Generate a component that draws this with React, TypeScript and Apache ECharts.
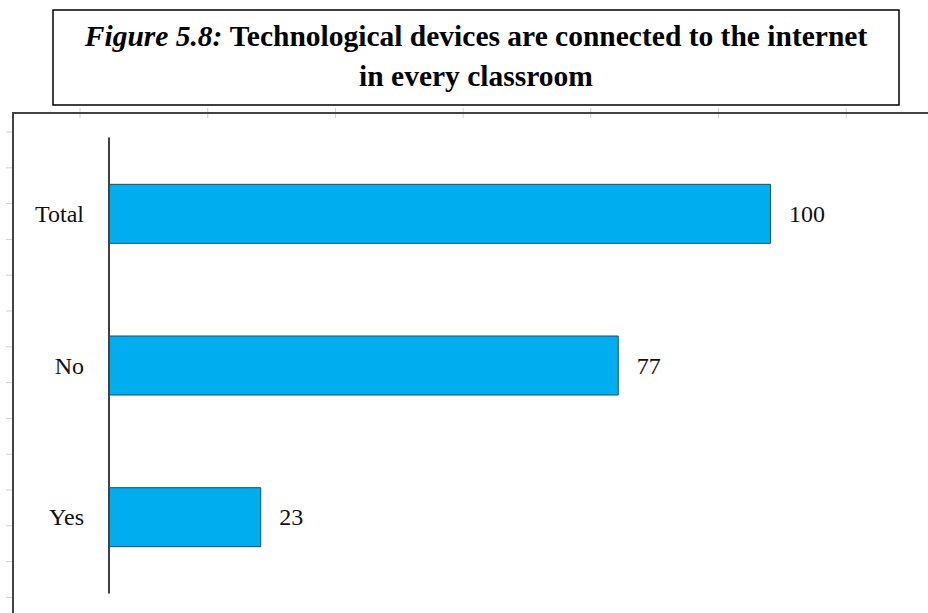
import React, { useEffect, useRef } from "react";
import * as echarts from "echarts";

const categories = ["Yes", "No", "Total"];
const values = [23, 77, 100];
const titleItalic = "Figure 5.8:";
const titleLine1 = "Technological devices are connected to the internet";
const titleLine2 = "in every classroom";

export default function App() {
  const ref = useRef<HTMLDivElement>(null);
  useEffect(() => {
    if (!ref.current) return;
    const chart = echarts.init(ref.current, undefined, { renderer: "svg" });
    const serif = "'Liberation Serif', 'Times New Roman', serif";
    const topTicks: any[] = [];
    for (let i = 0; i < 7; i++) {
      const x = 80 + i * 127.7;
      topTicks.push({ type: "line", shape: { x1: x, y1: 108, x2: x, y2: 118 }, style: { stroke: "#d0d0d0", lineWidth: 1 } });
    }
    for (let i = 0; i < 14; i++) {
      const y = 132 + i * 35.8;
      topTicks.push({ type: "line", shape: { x1: 6, y1: y, x2: 12, y2: y }, style: { stroke: "#d0d0d0", lineWidth: 1 } });
    }
    chart.setOption({
      animation: false,
      backgroundColor: "#ffffff",
      grid: { left: 109, right: 157, top: 138, bottom: 20, containLabel: false },
      xAxis: { type: "value", min: 0, max: 100, show: false },
      yAxis: {
        type: "category",
        data: categories,
        axisLine: { show: true, lineStyle: { color: "#000", width: 1.5 } },
        axisTick: { show: false },
        axisLabel: { margin: 25, color: "#111", fontFamily: serif, fontSize: 24 },
        splitLine: { show: false },
      },
      series: [
        {
          type: "bar",
          data: values,
          barWidth: 60,
          itemStyle: { color: "#00ADEF", borderColor: "#1d4f6e", borderWidth: 1 },
          label: {
            show: true,
            position: "right",
            distance: 18,
            color: "#111",
            fontFamily: serif,
            fontSize: 24,
          },
        },
      ],
      graphic: [
        ...topTicks,
        {
          type: "rect",
          shape: { x: 13, y: 113, width: 940, height: 540 },
          style: { fill: "none", stroke: "#444", lineWidth: 2 },
          z: 10,
        },
        {
          type: "rect",
          shape: { x: 53, y: 10, width: 846, height: 95 },
          style: { fill: "#fff", stroke: "#000", lineWidth: 1.5 },
          z: 20,
        },
        {
          type: "text",
          x: 476,
          y: 36,
          z: 21,
          style: {
            text: "{i|" + titleItalic + "} {b|" + titleLine1 + "}",
            align: "center",
            verticalAlign: "middle",
            rich: {
              i: { fontFamily: serif, fontStyle: "italic", fontWeight: "bold", fontSize: 29.5, fill: "#000" },
              b: { fontFamily: serif, fontWeight: "bold", fontSize: 29.5, fill: "#000" },
            },
            fontFamily: serif,
            fontWeight: "bold",
            fontSize: 29.5,
            fill: "#000",
          },
        },
        {
          type: "text",
          x: 476,
          y: 76,
          z: 21,
          style: {
            text: titleLine2,
            align: "center",
            verticalAlign: "middle",
            fontFamily: serif,
            fontWeight: "bold",
            fontSize: 29.5,
            fill: "#000",
          },
        },
      ],
    });
    return () => chart.dispose();
  }, []);
  return <div ref={ref} style={{ position: "absolute", left: 0, top: 0, width: 928, height: 613 }} />;
}
